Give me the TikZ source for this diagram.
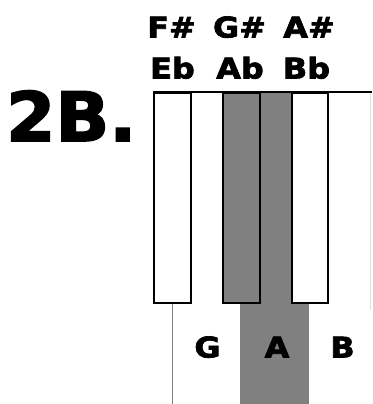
\documentclass[tikz,border=0pt]{standalone}
\usepackage{fontspec}
\newfontfamily\heavy[FakeBold=2.5,FakeStretch=1.12]{DejaVu Sans}
\newfontfamily\heavyt[FakeBold=2.5,FakeStretch=1.04]{DejaVu Sans}
\definecolor{keygray}{RGB}{128,128,128}
\begin{document}
\begin{tikzpicture}[x=1pt,y=-1pt,
  lbl/.style={font=\heavy\bfseries\fontsize{28.5}{28.5}\selectfont, inner sep=0pt, anchor=base},
  bigl/.style={font=\heavyt\bfseries\fontsize{68}{68}\selectfont, inner sep=0pt, anchor=base west},
  blackkey/.style={draw=black, line width=2pt, fill=white, inner sep=0pt, anchor=north west, minimum height=210pt},
  pressed/.style={blackkey, fill=keygray},
  frame/.style={draw=black, line width=1.5pt},
  stem/.style={draw=gray, line width=1pt}]
\useasboundingbox (0,0) rectangle (372,404);
% pressed A area
\fill[keygray] (259,92) rectangle (291,302);
\fill[keygray] (240,302) rectangle (309,404);
% top edge
\coordinate (tl) at (153,92);
\coordinate (tr) at (372,92);
\draw[frame] (tl) -- (tr);
\draw[draw=black!12, line width=0.8pt] (370.5,93) -- (370.5,310);
% black keys
\node[blackkey, minimum width=37pt] (eb) at (153,92) {};
\node[pressed, minimum width=37pt] (gs) at (222,92) {};
\node[blackkey, minimum width=36pt] (as) at (291,92) {};
\coordinate (stemend) at (172,404);
\draw[stem] (eb.south -| stemend) -- (stemend);
% labels
\node[lbl] (fs) at (171.5,37.5) {F\#};
\node[lbl] (gsl) at (239.5,37.5) {G\#};
\node[lbl] (asl) at (309,37.5) {A\#};
\node[lbl] (ebl) at (172.5,78.5) {Eb};
\node[lbl] (abl) at (240,78.5) {Ab};
\node[lbl] (bbl) at (306.5,78.5) {Bb};
\node[bigl] (title) at (6,141) {2B.};
\node[lbl] (g) at (207.5,357.5) {G};
\node[lbl] (a) at (277,357.5) {A};
\node[lbl] (b) at (342.5,357.5) {B};
\end{tikzpicture}
\end{document}
